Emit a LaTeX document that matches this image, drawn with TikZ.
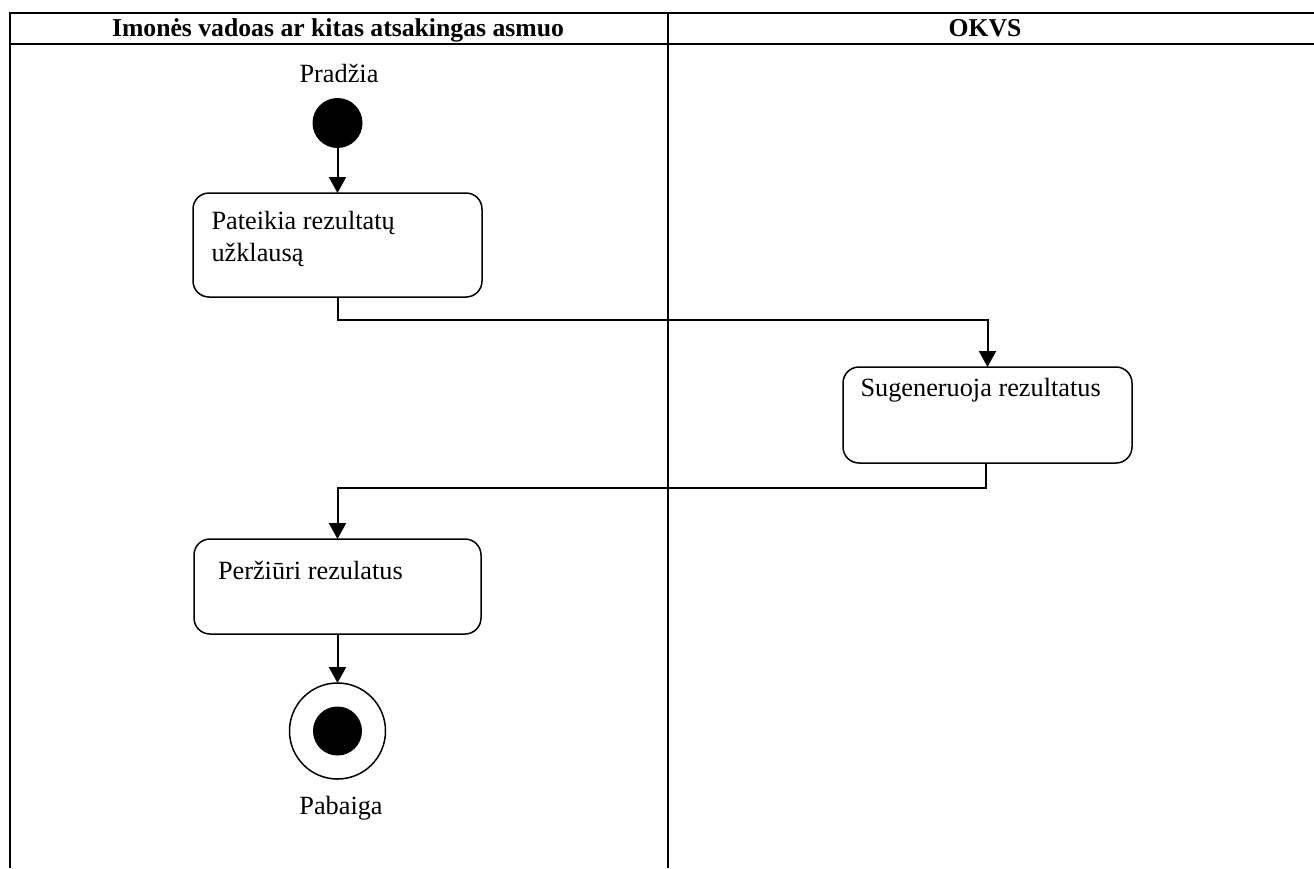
\documentclass[tikz,border=0pt]{standalone}
\usepackage{fontspec}
\setmainfont{Liberation Serif}
\usetikzlibrary{arrows.meta}
\begin{document}
\begin{tikzpicture}[x=1pt,y=-1pt,
  every node/.style={font=\fontsize{26.3}{32}\selectfont, inner sep=0pt, outer sep=0pt},
  hdr/.style={font=\fontsize{25.7}{32}\selectfont\bfseries, anchor=base},
  txt/.style={anchor=base west},
  centerlbl/.style={anchor=base},
  actbox/.style={draw, line width=1.5pt, rounded corners=16pt},
  frame/.style={line width=2pt},
  flow/.style={line width=2pt, -{Triangle[length=16pt,width=17pt]}}
]
\useasboundingbox (0,0) rectangle (1314,868);
% swimlane frame
\draw[frame] (10,868) -- (10,13) -- (1314,13);
\draw[frame] (10,44) -- (1314,44);
\draw[frame] (668,13) -- (668,868);
\node[hdr] (h1) at (338,36.5) {Imonės vadoas ar kitas atsakingas asmuo};
\node[hdr] (h2) at (985,36.5) {OKVS};
% start
\node[centerlbl] (startlbl) at (339,82) {Pradžia};
\node[circle, fill=black, minimum size=50pt] (start) at (337.5,123) {};
% activities
\node[actbox, minimum width=289pt, minimum height=104pt] (b1) at (337.5,245) {};
\node[txt] (t1a) at (211.5,229.5) {Pateikia rezultatų};
\node[txt] (t1b) at (211.5,261.5) {užklausą};
\node[actbox, minimum width=289pt, minimum height=96pt] (b2) at (987.5,415) {};
\node[txt] (t2) at (860.5,396.5) {Sugeneruoja rezultatus};
\node[actbox, minimum width=287pt, minimum height=95pt] (b3) at (337.5,586.5) {};
\node[txt] (t3) at (218,579) {Peržiūri rezulatus};
% end
\node[circle, draw, line width=1.5pt, minimum size=96pt] (end) at (337.5,731) {};
\node[circle, fill=black, minimum size=49pt] (endin) at (337.5,731) {};
\node[centerlbl] (endlbl) at (341,814) {Pabaiga};
% flows
\draw[flow] (start.south) -- (b1.north);
\draw[flow] (b1.south) -- ++(0,23) -| (b2.north);
\draw[flow] ([xshift=-1.5pt]b2.south) -- ++(0,25) -| (b3.north);
\draw[flow] (b3.south) -- (end.north);
\end{tikzpicture}
\end{document}
